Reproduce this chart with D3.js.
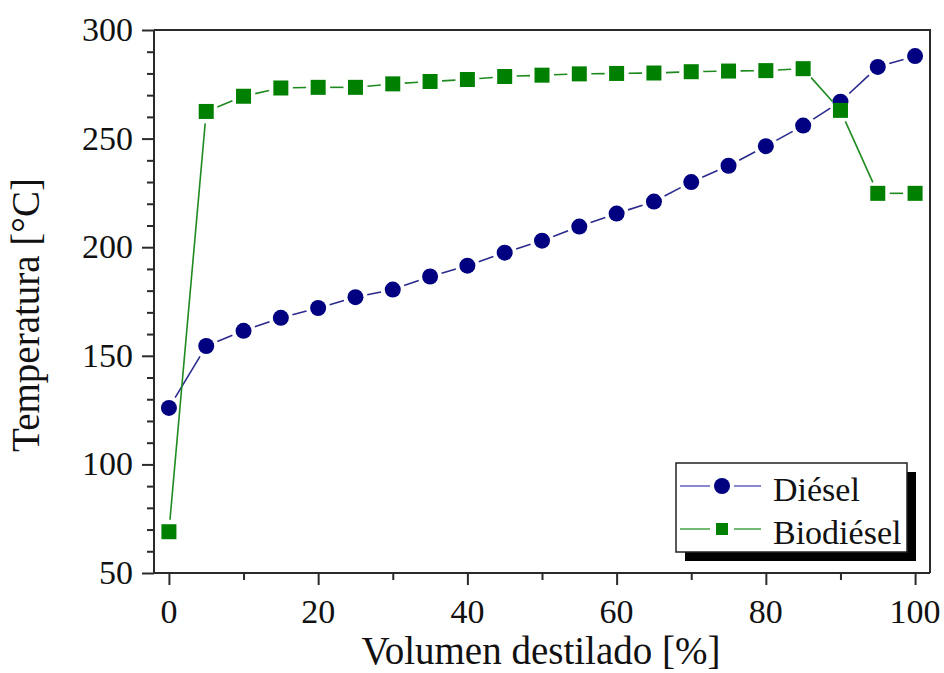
<!DOCTYPE html>
<html>
<head>
<meta charset="utf-8">
<script src="https://cdn.jsdelivr.net/npm/d3@7"></script>
<style>
  html, body { margin: 0; padding: 0; background: #fff; }
  svg { display: block; }
  text { font-family: "Liberation Serif", "DejaVu Serif", serif; fill: #111; }
</style>
</head>
<body>
<svg id="chart" width="944" height="673"></svg>
<script>
// Distillation curves: percentage distilled vs temperature
const volume = [0, 5, 10, 15, 20, 25, 30, 35, 40, 45, 50, 55, 60, 65, 70, 75, 80, 85, 90, 95, 100];
const dieselTemp = [126, 154.5, 161.5, 167.5, 172, 177, 180.5, 186.5, 191.5, 197.5, 203, 209.5, 215.5, 221, 230, 237.5, 246.5, 256, 267, 283, 288];
const biodieselTemp = [69, 262.5, 269.5, 273.3, 273.6, 273.6, 275.2, 276.3, 277.2, 278.6, 279.2, 279.8, 280, 280.2, 280.8, 281.1, 281.3, 282.2, 263, 224.8, 224.8];
const seriesNames = ["Diésel", "Biodiésel"];
const xTicks = [0, 20, 40, 60, 80, 100];
const yTicks = [50, 100, 150, 200, 250, 300];

const svg = d3.select("#chart");
const plot = { left: 154, right: 930, top: 30, bottom: 573 };

const x = d3.scaleLinear().domain([-2, 102]).range([plot.left, plot.right]);
const y = d3.scaleLinear().domain([50, 300]).range([plot.bottom, plot.top]);

// Frame: top and right borders
svg.append("path")
  .attr("d", `M${plot.left},${plot.top}H${plot.right}V${plot.bottom}`)
  .attr("fill", "none").attr("stroke", "#2a2a2a").attr("stroke-width", 2);

// Y axis with minor ticks every 10
const yAxis = svg.append("g").attr("transform", `translate(${plot.left},0)`);
yAxis.call(d3.axisLeft(y).tickValues(d3.range(50, 301, 10)).tickSize(7).tickFormat(""));
yAxis.call(g => g.selectAll(".tick").filter(d => yTicks.includes(d)).select("line").attr("x2", -12));
yAxis.selectAll("line").attr("stroke", "#2a2a2a").attr("stroke-width", 2);
yAxis.select(".domain").attr("stroke", "#2a2a2a").attr("stroke-width", 2).attr("d", `M0,${plot.top}V${plot.bottom}`);
svg.append("g").selectAll("text").data(yTicks).join("text")
  .attr("x", 133).attr("y", d => y(d) + 11)
  .attr("text-anchor", "end").attr("font-size", 34)
  .text(d => d);

// X axis with a minor tick between majors
const xAxis = svg.append("g").attr("transform", `translate(0,${plot.bottom})`);
xAxis.call(d3.axisBottom(x).tickValues(d3.range(0, 101, 10)).tickSize(7).tickFormat(""));
xAxis.call(g => g.selectAll(".tick").filter(d => xTicks.includes(d)).select("line").attr("y2", 12));
xAxis.selectAll("line").attr("stroke", "#2a2a2a").attr("stroke-width", 2);
xAxis.select(".domain").attr("stroke", "#2a2a2a").attr("stroke-width", 2).attr("d", `M${plot.left},0H${plot.right}`);
svg.append("g").selectAll("text").data(xTicks).join("text")
  .attr("x", d => x(d)).attr("y", 623)
  .attr("text-anchor", "middle").attr("font-size", 34)
  .text(d => d);

// Axis titles
svg.append("text")
  .attr("x", 541).attr("y", 664)
  .attr("text-anchor", "middle").attr("font-size", 39)
  .text("Volumen destilado [%]");
svg.append("text")
  .attr("transform", "translate(39,315) rotate(-90)")
  .attr("text-anchor", "middle").attr("font-size", 39)
  .text("Temperatura [°C]");

// Line segments stop short of each marker, leaving a small gap
function gappedSegments(values, gap) {
  const pts = volume.map((v, i) => [x(v), y(values[i])]);
  const segs = [];
  for (let i = 0; i < pts.length - 1; i++) {
    const [x0, y0] = pts[i], [x1, y1] = pts[i + 1];
    const len = Math.hypot(x1 - x0, y1 - y0);
    if (len <= 2 * gap) continue;
    const ux = (x1 - x0) / len, uy = (y1 - y0) / len;
    segs.push([x0 + ux * gap, y0 + uy * gap, x1 - ux * gap, y1 - uy * gap]);
  }
  return segs;
}

const dieselColor = "#000080", dieselLine = "#2a2a8c";
const bioColor = "#008000", bioLine = "#1f8a1f";

// Diésel series
svg.append("g").selectAll("line").data(gappedSegments(dieselTemp, 12)).join("line")
  .attr("x1", d => d[0]).attr("y1", d => d[1]).attr("x2", d => d[2]).attr("y2", d => d[3])
  .attr("stroke", dieselLine).attr("stroke-width", 1.6);
svg.append("g").selectAll("circle").data(dieselTemp).join("circle")
  .attr("cx", (d, i) => x(volume[i])).attr("cy", d => y(d)).attr("r", 8)
  .attr("fill", dieselColor);

// Biodiésel series
svg.append("g").selectAll("line").data(gappedSegments(biodieselTemp, 12)).join("line")
  .attr("x1", d => d[0]).attr("y1", d => d[1]).attr("x2", d => d[2]).attr("y2", d => d[3])
  .attr("stroke", bioLine).attr("stroke-width", 1.6);
svg.append("g").selectAll("rect").data(biodieselTemp).join("rect")
  .attr("x", (d, i) => x(volume[i]) - 7.5).attr("y", d => y(d) - 7.5)
  .attr("width", 15).attr("height", 15)
  .attr("fill", bioColor);

// Legend with drop shadow
const lg = svg.append("g");
lg.append("rect").attr("x", 685).attr("y", 472).attr("width", 231).attr("height", 89).attr("fill", "#000");
lg.append("rect").attr("x", 676).attr("y", 463).attr("width", 231).attr("height", 89)
  .attr("fill", "#fff").attr("stroke", "#222").attr("stroke-width", 1.5);

const legendRows = [
  { name: seriesNames[0], cy: 486, color: dieselColor, line: "#6a6ac4", shape: "circle" },
  { name: seriesNames[1], cy: 529, color: bioColor, line: "#4fa84f", shape: "square" }
];
legendRows.forEach(r => {
  lg.append("line").attr("x1", 680).attr("x2", 710).attr("y1", r.cy).attr("y2", r.cy)
    .attr("stroke", r.line).attr("stroke-width", 1.6);
  lg.append("line").attr("x1", 734).attr("x2", 761).attr("y1", r.cy).attr("y2", r.cy)
    .attr("stroke", r.line).attr("stroke-width", 1.6);
  if (r.shape === "circle") {
    lg.append("circle").attr("cx", 722).attr("cy", r.cy).attr("r", 8).attr("fill", r.color);
  } else {
    lg.append("rect").attr("x", 716).attr("y", r.cy - 6).attr("width", 12).attr("height", 12).attr("fill", r.color);
  }
  lg.append("text").attr("x", 773).attr("y", r.cy + 15).attr("font-size", 34).text(r.name);
});
</script>
</body>
</html>
